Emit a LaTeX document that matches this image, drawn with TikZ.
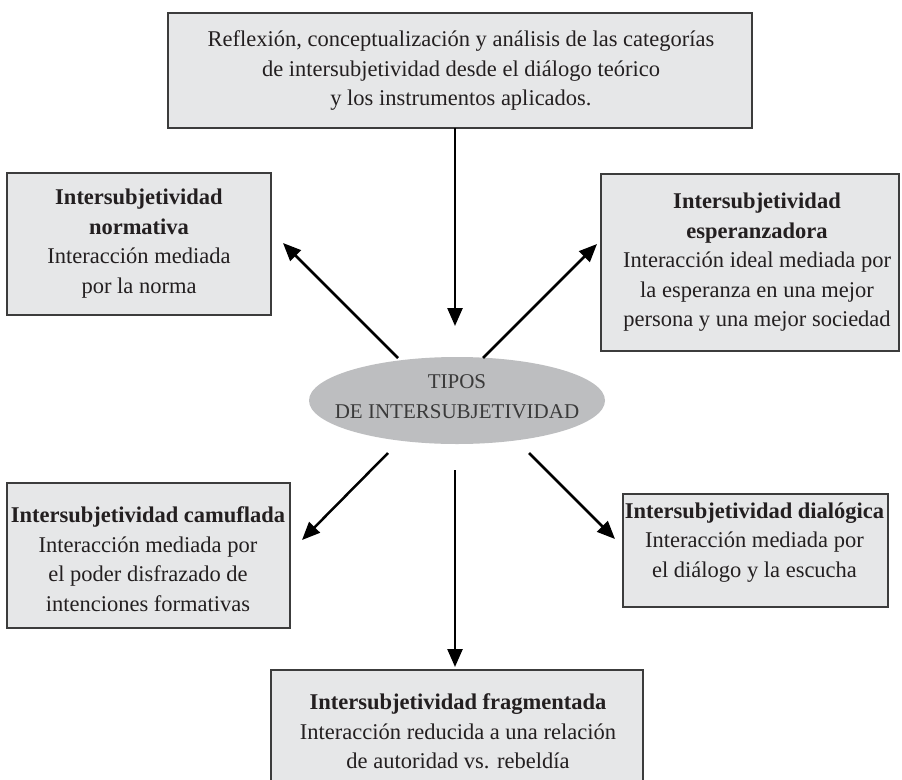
\documentclass[tikz,border=0pt]{standalone}
\usepackage{fontspec}
\setmainfont{Liberation Serif}
\usetikzlibrary{arrows.meta,shapes.geometric}
\definecolor{boxfill}{HTML}{E6E7E8}
\definecolor{boxline}{HTML}{3C3C3C}
\definecolor{ellfill}{HTML}{BDBEC0}
\definecolor{elltext}{HTML}{3A3A3A}
\definecolor{txtcol}{HTML}{231F20}
\tikzset{
  boxstyle/.style={draw=boxline,line width=1.3pt,fill=boxfill,rectangle,inner sep=0pt,outer sep=0pt},
  txt/.style={align=center,font=\fontsize{22.5}{29.5}\selectfont,inner sep=0pt,text=txtcol},
  elltxt/.style={align=center,font=\fontsize{21}{30}\selectfont,inner sep=0pt,text=elltext},
  arr/.style={line width=2.5pt,draw=black,-{Triangle[length=18pt,width=15pt]}},
}
\begin{document}
\begin{tikzpicture}[x=1pt,y=-1pt]
\useasboundingbox (0,0) rectangle (902,779);
\fill[white] (0,0) rectangle (902,779);

% boxes
\node[boxstyle,minimum width=584pt,minimum height=115pt] (topbox) at (460,70.5) {};
\node[txt] (toptxt) at (461,71) {Reflexión, conceptualización y análisis de las categorías\\de intersubjetividad desde el diálogo teórico\\y los instrumentos aplicados.};

\node[boxstyle,minimum width=264pt,minimum height=142pt] (norm) at (139,244) {};
\node[txt] (normtxt) at (139,243.5) {\textbf{Intersubjetividad}\\\textbf{normativa}\\Interacción mediada\\por la norma};

\node[boxstyle,minimum width=298pt,minimum height=177pt] (esp) at (750,262.5) {};
\node[txt] (esptxt) at (757,262.5) {\textbf{Intersubjetividad}\\\textbf{esperanzadora}\\Interacción ideal mediada por\\la esperanza en una mejor\\persona y una mejor sociedad};

\node[boxstyle,minimum width=283pt,minimum height=145pt] (cam) at (148.5,555.5) {};
\node[txt] (camtxt) at (148,559) {\textbf{Intersubjetividad camuflada}\\Interacción mediada por\\el poder disfrazado de\\intenciones formativas};

\node[boxstyle,minimum width=265pt,minimum height=113pt] (dia) at (755.5,550.5) {};
\node[txt] (diatxt) at (754.5,542.5) {\textbf{Intersubjetividad dialógica}\\Interacción mediada por\\el diálogo y la escucha};

\node[boxstyle,minimum width=372pt,minimum height=122pt] (frag) at (457,731) {};
\node[txt] (fragtxt) at (458,731.5) {\textbf{Intersubjetividad fragmentada}\\Interacción reducida a una relación\\de autoridad vs. rebeldía};

% central ellipse
\node[ellipse,fill=ellfill,draw=none,minimum width=296pt,minimum height=87pt,inner sep=0pt] (types) at (457,400.5) {};
\node[elltxt] (typestxt) at (457,397) {TIPOS\\DE INTERSUBJETIVIDAD};

% connector end points
\coordinate (t0) at (455,128);
\coordinate (t1) at (455,326);
\coordinate (nl0) at (398,358);
\coordinate (nl1) at (283,243);
\coordinate (nr0) at (483,358);
\coordinate (nr1) at (597,244);
\coordinate (sl0) at (388,453);
\coordinate (sl1) at (302,540);
\coordinate (sr0) at (529,453);
\coordinate (sr1) at (615,539);
\coordinate (s0) at (455,470);
\coordinate (s1) at (455,667);

\draw[arr] (t0) -- (t1);
\draw[arr] (nl0) -- (nl1);
\draw[arr] (nr0) -- (nr1);
\draw[arr] (sl0) -- (sl1);
\draw[arr] (sr0) -- (sr1);
\draw[arr] (s0) -- (s1);
\end{tikzpicture}
\end{document}
